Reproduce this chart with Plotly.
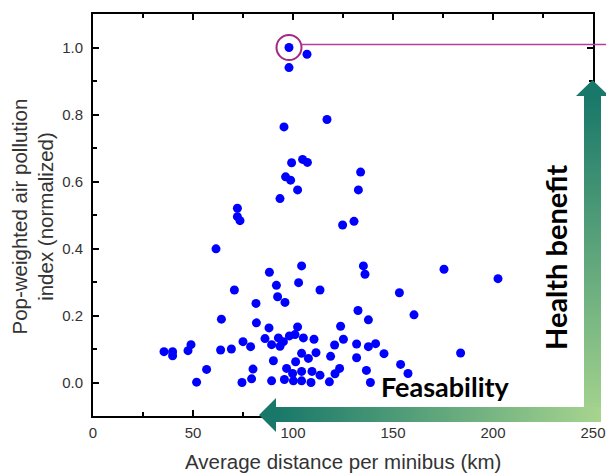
import plotly.graph_objects as go

# ---- data ----
dist_km = [98, 98, 107, 95.5, 117, 99.3, 104.8, 107.2, 96.3, 98.8, 102.3, 93.5, 72.2, 72.2, 73.5, 133.8, 132.7, 130.5, 124.8, 61.5,
           104.3, 135.2, 136, 175.5, 202.5, 88.2, 91.7, 92.3, 96, 81.5, 102.8, 70.7, 113.5, 153.2, 132.5, 137.7, 160.5, 64.2, 81.7, 88, 102.3, 123.8,
           35.5, 39.8, 39.8, 49, 47.5, 63.8, 69.2, 75, 78.8, 86, 89.3, 92.7, 93.5, 95.2, 98.2, 101, 105.2, 110.5, 125.2, 120.8, 131.8, 137.7, 141.3, 145.5, 183.8, 104.3, 111.5, 107.7, 118.8, 131.8, 101.3, 90.2,
           56.8, 51.8, 74.5, 79.3, 80, 89.3, 96.8, 99.8, 104.3, 109.5, 113.5, 95.7, 100.2, 104.3, 109, 118.2, 121, 123.3, 136.7, 138.7, 153.8, 157.5]
pollution_index = [1.0, 0.94, 0.98, 0.763, 0.785, 0.656, 0.666, 0.657, 0.614, 0.604, 0.575, 0.549, 0.52, 0.495, 0.483, 0.628, 0.575, 0.481, 0.47, 0.399,
                   0.348, 0.348, 0.323, 0.338, 0.31, 0.329, 0.29, 0.256, 0.239, 0.236, 0.298, 0.276, 0.276, 0.268, 0.215, 0.187, 0.202, 0.189, 0.178, 0.163, 0.166, 0.168,
                   0.092, 0.092, 0.08, 0.113, 0.095, 0.097, 0.1, 0.122, 0.107, 0.131, 0.113, 0.133, 0.108, 0.122, 0.139, 0.143, 0.133, 0.129, 0.129, 0.112, 0.115, 0.107, 0.116, 0.086, 0.088, 0.087, 0.089, 0.072, 0.078, 0.074, 0.062, 0.065,
                   0.039, 0.001, 0.0, 0.011, 0.04, 0.005, 0.042, 0.027, 0.033, 0.033, 0.022, 0.009, 0.005, 0.005, 0.0, 0.002, 0.026, 0.042, 0.036, 0.0, 0.054, 0.027]
highlight = (98, 1.0)

x_title = "Average distance per minibus (km)"
y_title = "Pop-weighted air pollution<br>index (normalized)"
label_health = "Health benefit"
label_feas = "Feasability"

# ---- layout geometry (pixels) ----
W, H = 606, 473
L, R, T, B = 93, 13, 14, 57
PW, PH = W - L - R, H - T - B


def px(x):
    return (x - L) / PW


def py(y):
    return (H - B - y) / PH


DARK = (24, 120, 105)
LIGHT = (168, 213, 143)


def mix(t):
    c = [round(DARK[i] + (LIGHT[i] - DARK[i]) * t) for i in range(3)]
    return f"rgb({c[0]},{c[1]},{c[2]})"


fig = go.Figure()
fig.add_trace(go.Scatter(x=dist_km, y=pollution_index, mode="markers",
                         marker=dict(color="#0000FF", size=9, line=dict(width=0)),
                         showlegend=False, hoverinfo="x+y"))

shapes = []
# vertical gradient band (top dark -> bottom light)
vx0, vx1, vtop, vbot = 584, 601, 95, 422
step = 2
yy = vtop
while yy < vbot:
    t = (yy - vtop) / (vbot - vtop)
    shapes.append(dict(type="rect", xref="paper", yref="paper", layer="above",
                       x0=px(vx0), x1=px(vx1), y0=py(min(yy + step + 0.6, vbot)), y1=py(yy),
                       fillcolor=mix(t), line=dict(width=0)))
    yy += step
# horizontal gradient band (left dark -> right light)
hx0, hx1, hy0, hy1 = 275, 601, 407, 422
xx = hx0
while xx < hx1:
    t = (xx - hx0) / (hx1 - hx0)
    shapes.append(dict(type="rect", xref="paper", yref="paper", layer="above",
                       x0=px(xx), x1=px(min(xx + step + 0.6, hx1)), y0=py(hy1), y1=py(hy0),
                       fillcolor=mix(t), line=dict(width=0)))
    xx += step
# arrow heads
dark = mix(0)
shapes.append(dict(type="path", xref="paper", yref="paper", layer="above",
                   path=f"M {px(259)} {py(415)} L {px(276)} {py(398)} L {px(276)} {py(432)} Z",
                   fillcolor=dark, line=dict(width=0)))
shapes.append(dict(type="path", xref="paper", yref="paper", layer="above",
                   path=f"M {px(592.5)} {py(80)} L {px(576)} {py(96)} L {px(609)} {py(96)} Z",
                   fillcolor=dark, line=dict(width=0)))
# highlight circle + connector line
shapes.append(dict(type="circle", xref="x", yref="y", xsizemode="pixel", ysizemode="pixel",
                   xanchor=highlight[0], yanchor=highlight[1], x0=-12.5, x1=12.5, y0=-12.5, y1=12.5,
                   line=dict(color="#A3287F", width=2), layer="above"))
shapes.append(dict(type="line", xref="paper", yref="paper", x0=px(301), x1=px(610), y0=py(44.5), y1=py(44.5),
                   line=dict(color="#B83C98", width=1.6), layer="above"))

annotations = [
    dict(text=label_feas, xref="paper", yref="paper", x=px(445.5), y=py(386), showarrow=False,
         font=dict(family="Lato", size=27, color="black", weight="bold"), xanchor="center", yanchor="middle"),
    dict(text=label_health, xref="paper", yref="paper", x=px(555), y=py(258), showarrow=False, textangle=-90,
         font=dict(family="Lato", size=29, color="black", weight="bold"), xanchor="center", yanchor="middle"),
    dict(text=x_title, xref="paper", yref="paper", x=px(343), y=py(461), showarrow=False,
         font=dict(family="Liberation Sans, Arial", size=20.5, color="#333333"), xanchor="center", yanchor="middle"),
    dict(text=y_title, xref="paper", yref="paper", x=px(32.5), y=py(217), showarrow=False, textangle=-90,
         font=dict(family="Liberation Sans, Arial", size=20.5, color="#333333"), xanchor="center", yanchor="middle"),
]

axis_common = dict(showline=True, linecolor="black", linewidth=2, mirror="ticks", ticks="inside",
                   ticklen=6, tickwidth=1.5, tickcolor="black", showgrid=False, zeroline=False,
                   tickfont=dict(family="Liberation Sans, Arial", size=15, color="#333333"))

fig.update_layout(
    width=W, height=H, margin=dict(l=L, r=R, t=T, b=B, autoexpand=False),
    paper_bgcolor="white", plot_bgcolor="white",
    xaxis=dict(range=[0, 250], dtick=50, tick0=0,
               minor=dict(dtick=25, ticks="inside", ticklen=4, tickcolor="black", tickwidth=1.5),
               ticklabelstandoff=2, **axis_common),
    yaxis=dict(range=[-0.1, 1.1], dtick=0.2, tick0=0, tickformat=".1f",
               minor=dict(dtick=0.1, ticks="inside", ticklen=4, tickcolor="black", tickwidth=1.5),
               ticklabelstandoff=5, **axis_common),
    shapes=shapes, annotations=annotations,
)

fig.write_html("out.html")
